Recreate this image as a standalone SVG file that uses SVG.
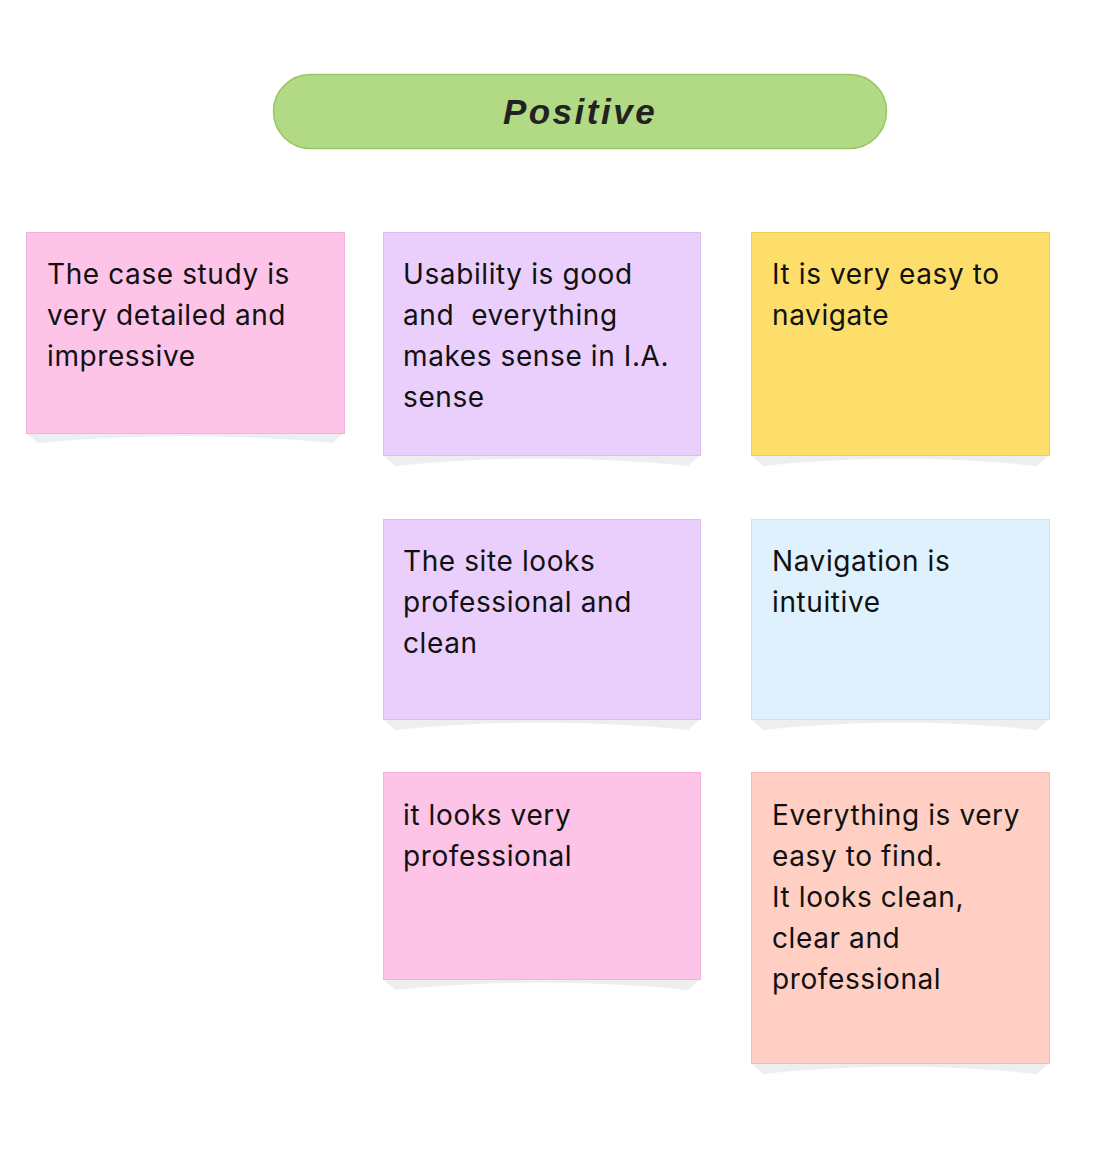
<svg xmlns="http://www.w3.org/2000/svg" width="1100" height="1160" viewBox="0 0 1100 1160">
  <style>
    .title { font-family: "Liberation Sans", Arial, sans-serif; font-size: 35px; font-weight: bold; font-style: italic; letter-spacing: 2.5px; fill: #222222; }
    .note-text { font-family: Inter, "Noto Sans", sans-serif; font-size: 28px; letter-spacing: 0.6px; fill: #111111; white-space: pre; }
    .shadow { fill: #eceeef; }
    .pink { fill: #fdc4e8; stroke: #f0b4dc; stroke-width: 1; }
    .purple { fill: #eacffd; stroke: #dbbdf0; stroke-width: 1; }
    .yellow { fill: #fdde6b; stroke: #f0cf58; stroke-width: 1; }
    .blue { fill: #dff1fc; stroke: #cbe3f2; stroke-width: 1; }
    .peach { fill: #ffcfc4; stroke: #f2bdb1; stroke-width: 1; }
  </style>
  <rect width="1100" height="1160" fill="#ffffff"/>

  <g id="title">
    <rect x="273.5" y="74.5" width="613" height="74" rx="37" ry="37" fill="#b2d984" stroke="#97c764" stroke-width="1.5"/>
    <text class="title" x="580" y="124" text-anchor="middle">Positive</text>
  </g>

  <!-- sticky notes: shadow, paper, text -->
  <g id="note-case-study">
    <path class="shadow" d="M26 433 L344 433 L332 443 Q185 429 38 443 Z"/>
    <rect class="pink" x="26.5" y="232.5" width="318" height="201"/>
    <text class="note-text">
      <tspan x="47" y="284">The case study is</tspan>
      <tspan x="47" y="325">very detailed and</tspan>
      <tspan x="47" y="366">impressive</tspan>
    </text>
  </g>

  <g id="note-usability">
    <path class="shadow" d="M383 455 L700 455 L688 466 Q541 451 395 466 Z"/>
    <rect class="purple" x="383.5" y="232.5" width="317" height="223"/>
    <text class="note-text">
      <tspan x="403" y="284">Usability is good</tspan>
      <tspan x="403" y="325">and  everything</tspan>
      <tspan x="403" y="366">makes sense in I.A.</tspan>
      <tspan x="403" y="407">sense</tspan>
    </text>
  </g>

  <g id="note-easy-navigate">
    <path class="shadow" d="M751 455 L1049 455 L1037 466 Q900 451 763 466 Z"/>
    <rect class="yellow" x="751.5" y="232.5" width="298" height="223"/>
    <text class="note-text">
      <tspan x="772" y="284">It is very easy to</tspan>
      <tspan x="772" y="325">navigate</tspan>
    </text>
  </g>

  <g id="note-site-looks">
    <path class="shadow" d="M383 719 L700 719 L688 730 Q541 715 395 730 Z"/>
    <rect class="purple" x="383.5" y="519.5" width="317" height="200"/>
    <text class="note-text">
      <tspan x="403" y="571">The site looks</tspan>
      <tspan x="403" y="612">professional and</tspan>
      <tspan x="403" y="653">clean</tspan>
    </text>
  </g>

  <g id="note-navigation">
    <path class="shadow" d="M751 719 L1049 719 L1037 730 Q900 715 763 730 Z"/>
    <rect class="blue" x="751.5" y="519.5" width="298" height="200"/>
    <text class="note-text">
      <tspan x="772" y="571">Navigation is</tspan>
      <tspan x="772" y="612">intuitive</tspan>
    </text>
  </g>

  <g id="note-looks-professional">
    <path class="shadow" d="M383 979 L700 979 L688 990 Q541 975 395 990 Z"/>
    <rect class="pink" x="383.5" y="772.5" width="317" height="207"/>
    <text class="note-text">
      <tspan x="403" y="825">it looks very</tspan>
      <tspan x="403" y="866">professional</tspan>
    </text>
  </g>

  <g id="note-easy-find">
    <path class="shadow" d="M751 1063 L1049 1063 L1037 1074 Q900 1059 763 1074 Z"/>
    <rect class="peach" x="751.5" y="772.5" width="298" height="291"/>
    <text class="note-text">
      <tspan x="772" y="825">Everything is very</tspan>
      <tspan x="772" y="866">easy to find.</tspan>
      <tspan x="772" y="907">It looks clean,</tspan>
      <tspan x="772" y="948">clear and</tspan>
      <tspan x="772" y="989">professional</tspan>
    </text>
  </g>

  <g id="connectors"/>
</svg>
